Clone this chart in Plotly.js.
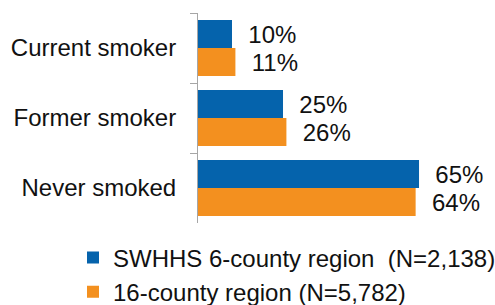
<!DOCTYPE html>
<html>
<head>
<meta charset="utf-8">
<script src="https://cdn.plot.ly/plotly-3.0.1.min.js"></script>
<style>html,body{margin:0;padding:0;background:#fff;}#chart{width:495px;height:305px;}</style>
</head>
<body>
<div id="chart"></div>
<script>
var categories = ["Current smoker", "Former smoker", "Never smoked"];
var seriesNames = ["SWHHS 6-county region\u00a0\u00a0(N=2,138)", "16-county region (N=5,782)"];
var swhhsValues = [10, 25, 65];
var countyValues = [11, 26, 64];
var colors = ["#0563AC", "#F3901F"];

function labels(vals) {
  return vals.map(function (v) { return "\u00a0\u00a0" + v + "%"; });
}

var FONT = "Liberation Sans, Arial, sans-serif";
var FS = 24;

var traces = [
  {
    type: "bar", orientation: "h", name: seriesNames[0],
    y: categories, x: swhhsValues,
    text: labels(swhhsValues), textposition: "outside", cliponaxis: false,
    textfont: {family: FONT, size: FS, color: "#111"},
    marker: {color: colors[0]}, legendgroup: "a", hoverinfo: "none"
  },
  {
    type: "bar", orientation: "h", name: seriesNames[1],
    y: categories, x: countyValues,
    text: labels(countyValues), textposition: "outside", cliponaxis: false,
    textfont: {family: FONT, size: FS, color: "#111"},
    marker: {color: colors[1]}, legendgroup: "b", hoverinfo: "none"
  }
];

var layout = {
  width: 495, height: 305,
  margin: {l: 198, r: 10, t: 13, b: 82, pad: 0, autoexpand: false},
  paper_bgcolor: "#fff", plot_bgcolor: "#fff",
  font: {family: FONT, size: FS, color: "#111"},
  barmode: "group", bargap: 0.2, bargroupgap: 0,
  showlegend: true,
  legend: {
    xref: "container", yref: "container",
    x: 73 / 495, xanchor: "left",
    y: 1 - 235.5 / 305, yanchor: "top",
    orientation: "v", traceorder: "normal", tracegroupgap: 13,
    font: {family: FONT, size: FS, color: "#111"}, bgcolor: "rgba(0,0,0,0)"
  },
  xaxis: {
    range: [0, 84.4], visible: false, showgrid: false, zeroline: false, fixedrange: true
  },
  yaxis: {
    type: "category", autorange: "reversed", automargin: false,
    showline: true, linecolor: "#A6A6A6", linewidth: 1,
    ticks: "outside", tickson: "boundaries", ticklen: 7, tickcolor: "#A6A6A6",
    ticklabelstandoff: 16,
    showgrid: false, zeroline: false,
    tickfont: {family: FONT, size: FS, color: "#111"}
  }
};

Plotly.newPlot("chart", traces, layout, {displayModeBar: false, staticPlot: true});
</script>
</body>
</html>
